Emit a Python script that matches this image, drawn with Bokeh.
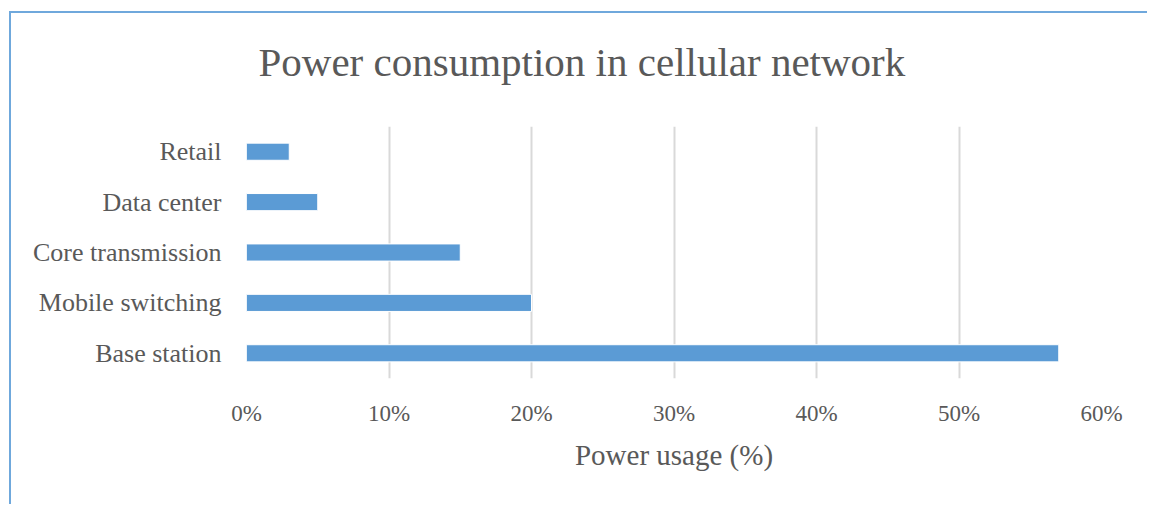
from bokeh.plotting import figure
from bokeh.models import Range1d, FactorRange, FixedTicker, PrintfTickFormatter, Title
from bokeh.embed import file_html
from bokeh.resources import INLINE

# Share of total power drawn by each part of a cellular network (%)
categories = ["Base station", "Mobile switching", "Core transmission", "Data center", "Retail"]
power_usage = [57, 20, 15, 5, 3]
x_ticks = [0, 10, 20, 30, 40, 50, 60]

FONT = "Liberation Serif"
TEXT = "#595959"
BAR = "#5B9BD5"
FRAME = "#6FA8DC"

p = figure(
    width=1138, height=493,
    y_range=FactorRange(*categories),
    x_range=Range1d(0, 60),
    output_backend="svg",
    toolbar_location=None,
    min_border_left=235, min_border_right=48,
    min_border_top=113, min_border_bottom=128,
    styles={
        "margin-left": "9px",
        "margin-top": "11px",
        "border-left": f"2px solid {FRAME}",
        "border-top": f"2px solid {FRAME}",
    },
)

p.hbar(y=categories, right=power_usage, left=0, height=0.34,
       fill_color=BAR, line_color="white", line_width=1)

p.outline_line_color = None
p.ygrid.grid_line_color = None
p.xgrid.grid_line_color = "#D9D9D9"
p.xgrid.grid_line_width = 2

p.xaxis.ticker = FixedTicker(ticks=x_ticks)
p.xaxis.formatter = PrintfTickFormatter(format="%d%%")
p.xaxis.axis_label = "Power usage (%)"
p.xaxis.axis_label_text_font = FONT
p.xaxis.axis_label_text_font_style = "normal"
p.xaxis.axis_label_text_font_size = "29px"
p.xaxis.axis_label_text_color = TEXT
p.xaxis.axis_label_standoff = 10

for ax in (p.xaxis, p.yaxis):
    ax.axis_line_color = None
    ax.major_tick_line_color = None
    ax.minor_tick_line_color = None
    ax.major_tick_out = 0
    ax.major_tick_in = 0
    ax.major_label_text_font = FONT
    ax.major_label_text_color = TEXT

p.xaxis.major_label_text_font_size = "23px"
p.yaxis.major_label_text_font_size = "26px"
p.xaxis.major_label_standoff = 22
p.yaxis.major_label_standoff = 25

# blank spacer between the plot area and the heading
p.add_layout(Title(text=" ", text_font_size="10px", standoff=29), "above")
p.add_layout(Title(
    text="Power consumption in cellular network",
    text_font=FONT, text_font_style="normal", text_font_size="41px",
    text_color=TEXT, align="left", offset=12, standoff=0,
), "above")

open("out.html", "w").write(file_html(p, INLINE))
